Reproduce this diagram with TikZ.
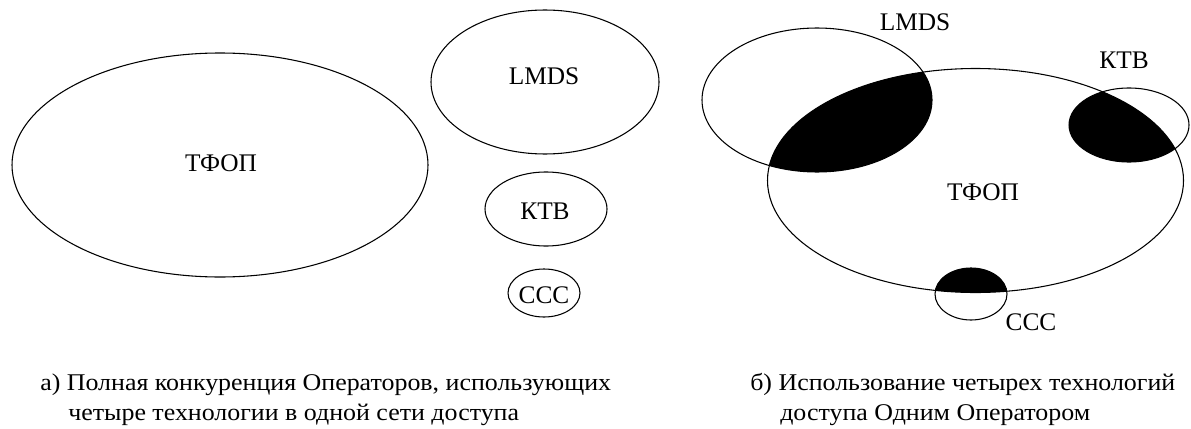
\documentclass[tikz,border=0pt]{standalone}
\usepackage{fontspec}
\setmainfont{Liberation Serif}
\newfontfamily\lblfont{Liberation Serif}
\newfontfamily\capfont[FakeStretch=1.08]{Liberation Serif}
\usetikzlibrary{shapes.geometric}
\tikzset{
  ell/.style n args={2}{ellipse, draw, line width=0.8pt, minimum width=#1*1.5pt, minimum height=#2*1.5pt, inner sep=0pt, outer sep=0pt},
  lbl/.style={font=\lblfont\fontsize{19}{22}\selectfont, inner sep=0pt},
  captxt/.style={font=\capfont\fontsize{18}{22}\selectfont, inner sep=0pt, anchor=base west},
}
\begin{document}
\begin{tikzpicture}[x=0.75pt,y=-0.75pt]
\useasboundingbox (0,0) rectangle (1191,428);
% ---- fills (right diagram intersections)
\begin{scope}
  \clip (975.5,180.5) ellipse [x radius=156pt, y radius=84pt];
  \fill[black] (817,100) ellipse [x radius=86.25pt, y radius=54pt];
  \fill[black] (1129,125) ellipse [x radius=45pt, y radius=27.75pt];
  \fill[black] (971,294) ellipse [x radius=27pt, y radius=19.5pt];
\end{scope}
% ---- left diagram
\node[ell={208}{112}] (tfopL) at (220,165) {};
\node[ell={114}{72}] (lmdsL) at (545,82) {};
\node[ell={61}{37}] (ktvL) at (546,209) {};
\node[ell={36}{24}] (cccL) at (544,293) {};
\node[lbl] (tTfopL) at (221,163) {ТФОП};
\node[lbl] (tLmdsL) at (544,76) {LMDS};
\node[lbl] (tKtvL) at (545,211) {КТВ};
\node[lbl] (tCccL) at (544,295) {ССС};
% ---- right diagram
\node[ell={115}{72}] (lmdsR) at (817,100) {};
\node[ell={208}{112}] (tfopR) at (975.5,180.5) {};
\node[ell={60}{37}] (ktvR) at (1129,125) {};
\node[ell={36}{26}] (cccR) at (971,294) {};
\node[lbl] (tLmdsR) at (915,22) {LMDS};
\node[lbl] (tKtvR) at (1124,60) {КТВ};
\node[lbl] (tTfopR) at (983,192) {ТФОП};
\node[lbl] (tCccR) at (1031,322) {ССС};
% ---- captions
\node[captxt] (capA1) at (40,390) {а) Полная конкуренция Операторов, использующих};
\node[captxt] (capA2) at (68,420) {четыре технологии в одной сети доступа};
\node[captxt] (capB1) at (750,390) {б) Использование четырех технологий};
\node[captxt] (capB2) at (780,420) {доступа Одним Оператором};
\end{tikzpicture}
\end{document}
